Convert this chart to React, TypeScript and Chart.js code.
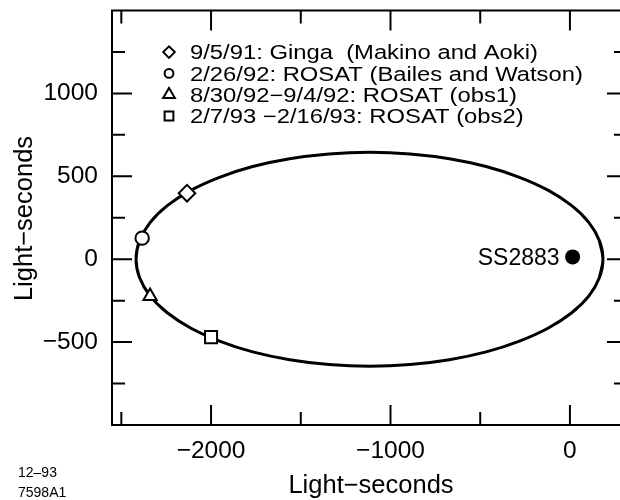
import React, { useEffect, useRef } from 'react';
import { Chart, registerables } from 'chart.js';

Chart.register(...registerables);

// Orbit of the companion (light-seconds); loop overlaps slightly to close smoothly
const orbitX = [164, 184, 164, 106, 10, -120, -281, -467, -672, -891, -1117, -1343, -1562, -1768, -1953, -2114, -2244, -2340, -2398, -2418, -2398, -2340, -2244, -2114, -1953, -1768, -1562, -1343, -1117, -891, -672, -467, -281, -120, 10, 106, 164, 184, 164];
const orbitY = [-112, 0, 112, 221, 323, 415, 494, 559, 606, 635, 645, 635, 606, 559, 494, 415, 323, 221, 112, 0, -112, -221, -323, -415, -494, -559, -606, -635, -645, -635, -606, -559, -494, -415, -323, -221, -112, 0, 112];

// Observations
const obsLabels = [
  '9/5/91: Ginga  (Makino and Aoki)',
  '2/26/92: ROSAT (Bailes and Watson)',
  '8/30/92\u22129/4/92: ROSAT (obs1)',
  '2/7/93 \u22122/16/93: ROSAT (obs2)',
];
const obsStyles = ['rectRot', 'circle', 'triangle', 'rect'];
const obsX = [-2134, -2384, -2340, -2000];
const obsY = [398, 127, -223, -470];

// Pulsar
const starLabel = 'SS2883';
const starX = [15];
const starY = [14];

// Axes
const xMin = -2552;
const xMax = 318;
const yMin = -1000;
const yMax = 1500;
const xMajorTicks = [-2000, -1000, 0];
const xMinorTicks = [-2500, -1500, -500];
const yMajorTicks = [-500, 0, 500, 1000];
const yMinorTicks = [-750, -250, 250, 750, 1250];
const xTitle = 'Light\u2212seconds';
const yTitle = 'Light\u2212seconds';
const figId = ['12\u201393', '7598A1'];

const FONT = '"Liberation Sans", Arial, sans-serif';
const fmt = (v: number) => (v < 0 ? '\u2212' + Math.abs(v) : String(v));

function drawMarker(ctx: CanvasRenderingContext2D, style: string, x: number, y: number, r: number) {
  ctx.beginPath();
  if (style === 'rectRot') {
    ctx.moveTo(x - r, y);
    ctx.lineTo(x, y - r);
    ctx.lineTo(x + r, y);
    ctx.lineTo(x, y + r);
    ctx.closePath();
  } else if (style === 'circle') {
    ctx.arc(x, y, r, 0, Math.PI * 2);
  } else if (style === 'triangle') {
    ctx.moveTo(x, y - r);
    ctx.lineTo(x + 0.866 * r, y + 0.5 * r);
    ctx.lineTo(x - 0.866 * r, y + 0.5 * r);
    ctx.closePath();
  } else {
    const s = r * Math.SQRT1_2;
    ctx.rect(x - s, y - s, 2 * s, 2 * s);
  }
  ctx.fillStyle = '#fff';
  ctx.fill();
  ctx.lineWidth = 2;
  ctx.strokeStyle = '#000';
  ctx.stroke();
}

const obsRadius = [8.3, 6.7, 7.6, 8.5];
const legendRadius = [5.8, 4.4, 6.8, 6.2];

const framePlugin = {
  id: 'frame',
  afterDraw(chart: any) {
    const ctx: CanvasRenderingContext2D = chart.ctx;
    const { left, right, top, bottom } = chart.chartArea;
    const xs = chart.scales.x;
    const ys = chart.scales.y;
    ctx.save();
    ctx.strokeStyle = '#000';
    ctx.lineWidth = 2;
    ctx.strokeRect(left, top, right - left, bottom - top);
    const tick = (vals: number[], len: number) => {
      vals.forEach((v) => {
        const px = xs.getPixelForValue(v);
        ctx.beginPath();
        ctx.moveTo(px, bottom);
        ctx.lineTo(px, bottom - len);
        ctx.moveTo(px, top);
        ctx.lineTo(px, top + len);
        ctx.stroke();
      });
    };
    const ytick = (vals: number[], len: number) => {
      vals.forEach((v) => {
        const py = ys.getPixelForValue(v);
        ctx.beginPath();
        ctx.moveTo(left, py);
        ctx.lineTo(left + len, py);
        ctx.moveTo(right, py);
        ctx.lineTo(right - len, py);
        ctx.stroke();
      });
    };
    tick(xMajorTicks, 20);
    tick(xMinorTicks, 13);
    ytick(yMajorTicks, 20);
    ytick(yMinorTicks, 13);

    ctx.fillStyle = '#000';
    // Axis titles
    ctx.font = `25.5px ${FONT}`;
    ctx.textAlign = 'center';
    ctx.textBaseline = 'alphabetic';
    ctx.fillText(xTitle, 371, 493);
    ctx.save();
    ctx.translate(32, 218.5);
    ctx.rotate(-Math.PI / 2);
    ctx.fillText(yTitle, 0, 0);
    ctx.restore();

    // Star label
    ctx.font = `23px ${FONT}`;
    ctx.textAlign = 'right';
    ctx.fillText(starLabel, xs.getPixelForValue(starX[0]) - 13, ys.getPixelForValue(starY[0]) + 8.5);

    // Legend
    ctx.textAlign = 'left';
    obsLabels.forEach((lab, i) => {
      const base = 59.3 + i * 21.3;
      drawMarker(ctx, obsStyles[i], 169, base - 7.2, legendRadius[i]);
      ctx.save();
      ctx.translate(190, base);
      ctx.scale(1.19, 1);
      ctx.font = `20px ${FONT}`;
      ctx.fillStyle = '#000';
      ctx.fillText(lab, 0, 0);
      ctx.restore();
    });

    // Figure id
    ctx.font = `14px ${FONT}`;
    ctx.fillStyle = '#000';
    ctx.fillText(figId[0], 18, 477);
    ctx.fillText(figId[1], 18, 497);
    ctx.restore();
  },
};

export default function App() {
  const ref = useRef<HTMLCanvasElement>(null);
  useEffect(() => {
    const canvas = ref.current;
    if (!canvas) return;
    const obsSets = obsX.map((x, i) => ({
      label: obsLabels[i],
      data: [{ x, y: obsY[i] }],
      pointStyle: obsStyles[i],
      pointRadius: obsRadius[i],
      pointBackgroundColor: '#fff',
      pointBorderColor: '#000',
      pointBorderWidth: 2,
      showLine: false,
    }));
    const chart = new Chart(canvas, {
      type: 'scatter',
      data: {
        datasets: [
          ...obsSets,
          {
            label: starLabel,
            data: starX.map((x, i) => ({ x, y: starY[i] })),
            pointStyle: 'circle',
            pointRadius: 7.5,
            pointBackgroundColor: '#000',
            pointBorderColor: '#000',
            pointBorderWidth: 0,
            showLine: false,
          },
          {
            label: 'orbit',
            data: orbitX.map((x, i) => ({ x, y: orbitY[i] })),
            showLine: true,
            borderColor: '#000',
            borderWidth: 3,
            pointRadius: 0,
            tension: 0.38,
            fill: false,
          },
        ] as any,
      },
      options: {
        responsive: false,
        animation: false,
        events: [],
        layout: { padding: { top: 9, right: 13, left: 0, bottom: 0 } },
        plugins: { legend: { display: false }, tooltip: { enabled: false } },
        scales: {
          x: {
            type: 'linear',
            min: xMin,
            max: xMax,
            grid: { display: false, drawTicks: false },
            border: { display: false },
            ticks: {
              color: '#000',
              font: { family: FONT, size: 24.5 },
              padding: 12,
              maxRotation: 0,
              autoSkip: false,
              callback: (v: any) => fmt(Number(v)),
            },
            afterBuildTicks: (s: any) => {
              s.ticks = xMajorTicks.map((v) => ({ value: v }));
            },
            afterFit: (s: any) => {
              s.height = 75;
              s.paddingLeft = 0;
              s.paddingRight = 0;
            },
          },
          y: {
            type: 'linear',
            min: yMin,
            max: yMax,
            grid: { display: false, drawTicks: false },
            border: { display: false },
            ticks: {
              color: '#000',
              font: { family: FONT, size: 24.5 },
              padding: 14,
              autoSkip: false,
              callback: (v: any) => fmt(Number(v)),
            },
            afterBuildTicks: (s: any) => {
              s.ticks = yMajorTicks.map((v) => ({ value: v }));
            },
            afterFit: (s: any) => {
              s.width = 112;
              s.paddingTop = 0;
              s.paddingBottom = 0;
            },
          },
        },
      } as any,
      plugins: [framePlugin],
    });
    return () => chart.destroy();
  }, []);
  return (
    <div style={{ position: 'absolute', left: 0, top: 0, width: 620, height: 500, overflow: 'hidden', background: '#fff' }}>
      <canvas ref={ref} width={640} height={500} style={{ display: 'block', width: 640, height: 500 }} />
    </div>
  );
}
